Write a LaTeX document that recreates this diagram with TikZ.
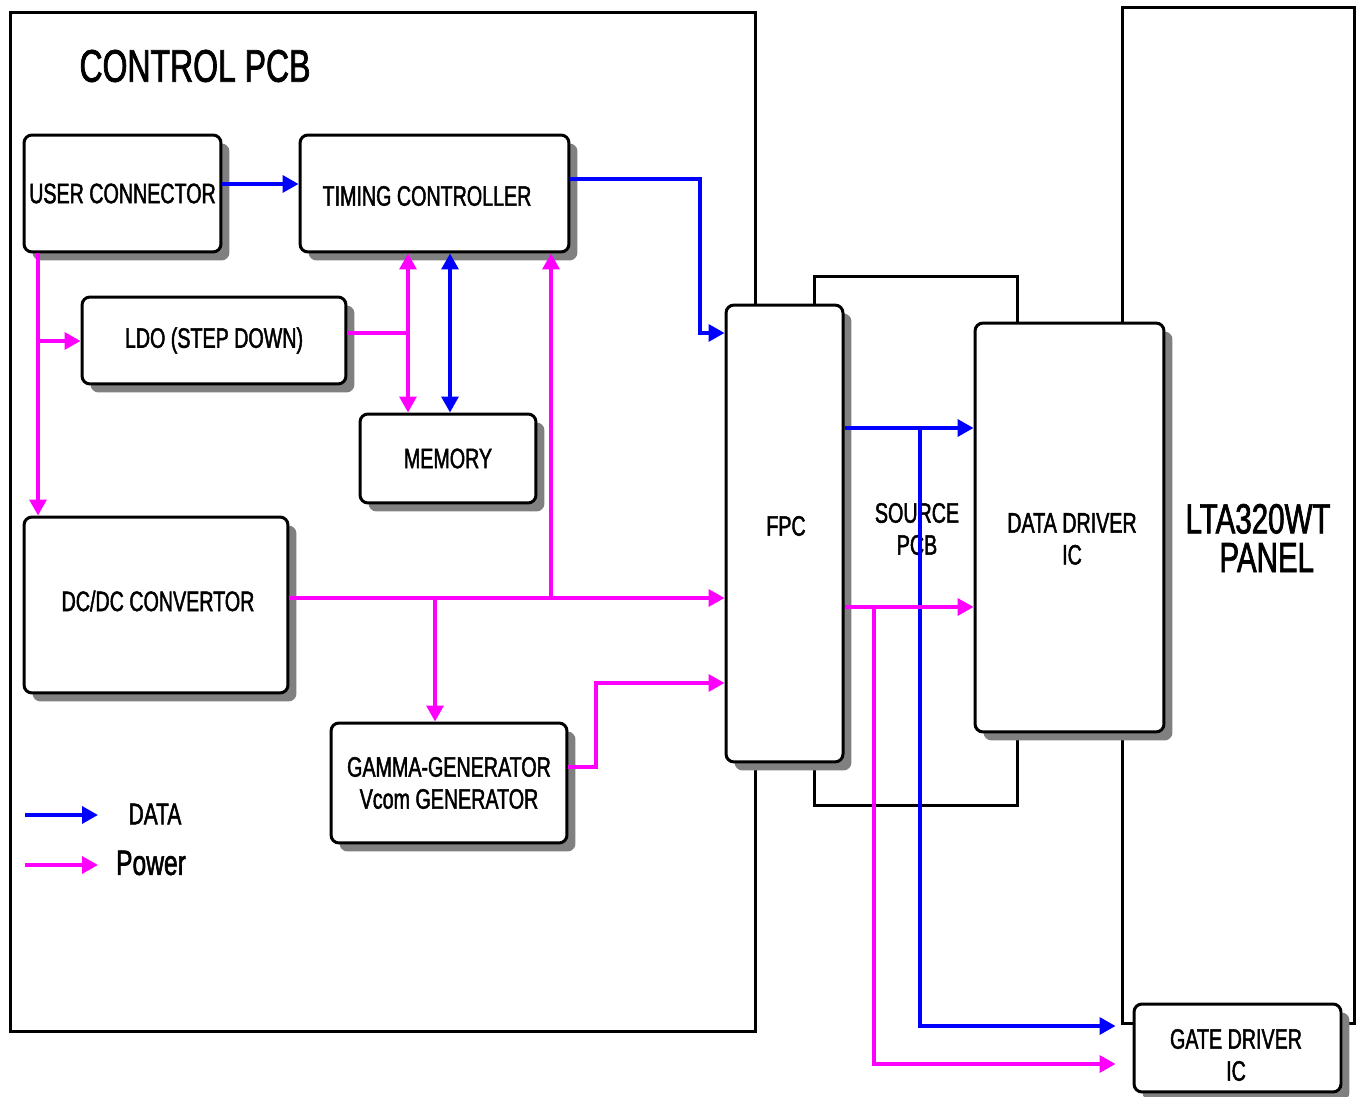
\documentclass[tikz,border=0pt]{standalone}
\usepackage{fontspec}
\setmainfont[FakeStretch=0.7, FakeBold=1.6]{Liberation Sans}
\usetikzlibrary{arrows.meta,shadows}
\definecolor{datablue}{RGB}{0,0,255}
\definecolor{powerpink}{RGB}{255,0,255}
\tikzset{
        % Board outlines
        board/.style={draw=black, line width=0.06cm, fill=white, inner sep=0pt},
        % Shadowed blocks
        block/.style={draw=black, line width=0.06cm, fill=white, rounded corners=0.16cm,
                align=center, inner sep=0pt, font=\fontsize{16}{18.2}\selectfont,
                drop shadow={shadow xshift=0.17cm, shadow yshift=-0.17cm, fill=gray, opacity=1}},
        % Free labels
        lbl/.style={align=center, inner sep=0pt, font=\fontsize{16}{18.2}\selectfont},
        % Data lines
        line_data/.style={->, draw=datablue, line width=0.07cm},
        % Power lines
        line_power/.style={->, draw=powerpink, line width=0.07cm}
}
\begin{document}
\begin{tikzpicture}[
            x=0.02cm, y=-0.02cm,
            >={Triangle[length=0.32cm,width=0.34cm]}
        ]
            \useasboundingbox (0,0) rectangle (1365,1097);
            % boards
            \node[board, minimum width=14.92cm, minimum height=20.4cm] (control) at (383,522) {};
            \node[board, minimum width=4.08cm, minimum height=10.6cm] (source) at (916,541) {};
            \node[board, minimum width=4.66cm, minimum height=20.34cm] (panel) at (1238.5,515.5) {};
            \node[lbl, font=\fontsize{26}{28}\selectfont] (control_txt) at (195,66) {CONTROL PCB};
            \node[lbl] (source_txt) at (917,529) {SOURCE\\PCB};
            \node[lbl, font=\fontsize{24}{22}\selectfont] (panel_txt) at (1258,538) {LTA320WT\\\hspace*{0.35cm}PANEL};
            % blocks
            \node[block, minimum width=3.94cm, minimum height=2.34cm] (user) at (122.5,193.5) {USER CONNECTOR};
            \node[block, minimum width=5.38cm, minimum height=2.34cm] (timing) at (434.5,193.5) {};
            \node[block, minimum width=5.28cm, minimum height=1.74cm] (ldo) at (214,340.5) {LDO (STEP DOWN)};
            \node[block, minimum width=3.52cm, minimum height=1.78cm] (memory) at (448,458.5) {MEMORY};
            \node[block, minimum width=5.28cm, minimum height=3.52cm] (dcdc) at (156,605) {};
            \node[block, minimum width=4.72cm, minimum height=2.4cm] (gamma) at (449,783) {GAMMA-GENERATOR\\Vcom GENERATOR};
            \node[block, minimum width=2.34cm, minimum height=9.14cm] (fpc) at (784.5,533.5) {};
            \node[block, minimum width=3.78cm, minimum height=8.18cm] (ddic) at (1069.5,527.5) {};
            \node[block, minimum width=4.14cm, minimum height=1.76cm] (gdic) at (1237.5,1048) {};
            \node[lbl] (timing_txt) at (427,196) {TIMING CONTROLLER};
            \node[lbl] (dcdc_txt) at (158,601) {DC/DC CONVERTOR};
            \node[lbl] (fpc_txt) at (786,526) {FPC};
            \node[lbl] (ddic_txt) at (1072,539) {DATA DRIVER\\IC};
            \node[lbl] (gdic_txt) at (1236,1055) {GATE DRIVER\\IC};
            % junctions
            \coordinate (j_ldo) at (38,341);
            \coordinate (j_mem) at (408,333);
            \coordinate (j_bus) at (288,598);
            \coordinate (j_tcon) at (551,598);
            \coordinate (j_gam) at (435,598);
            \coordinate (j_vcom) at (596,683);
            \coordinate (j_fpc) at (700,333);
            \coordinate (j_gp) at (874,607);
            \coordinate (j_gd) at (920,428);
            % data lines
            \draw[line_data] (user.east |- 0,184) -- (timing.west |- 0,184);
            \draw[line_data] (timing.east |- 0,179) -| (j_fpc) -- (fpc.west |- j_fpc);
            \draw[line_data, <->] (timing.south -| 450,0) -- (memory.north -| 450,0);
            \draw[line_data] (fpc.east |- j_gd) -- (ddic.west |- j_gd);
            \draw[line_data, shorten >=0.34cm] (j_gd) |- (gdic.west |- 0,1026);
            % power lines
            \draw[line_power] (user.south -| j_ldo) -- (dcdc.north -| j_ldo);
            \draw[line_power] (j_ldo) -- (ldo.west |- j_ldo);
            \draw[line_power, -] (ldo.east |- j_mem) -- (j_mem);
            \draw[line_power, <->] (timing.south -| j_mem) -- (memory.north -| j_mem);
            \draw[line_power] (dcdc.east |- j_bus) -- (fpc.west |- j_bus);
            \draw[line_power] (j_tcon) -- (timing.south -| j_tcon);
            \draw[line_power] (j_gam) -- (gamma.north -| j_gam);
            \draw[line_power] (gamma.east |- 0,767) -| (j_vcom) -- (fpc.west |- j_vcom);
            \draw[line_power] (fpc.east |- j_gp) -- (ddic.west |- j_gp);
            \draw[line_power, shorten >=0.34cm] (j_gp) |- (gdic.west |- 0,1064);
            % legend
            \coordinate (key_data_a) at (25,815);
            \coordinate (key_data_b) at (98,815);
            \coordinate (key_power_a) at (25,865);
            \coordinate (key_power_b) at (98,865);
            \draw[line_data] (key_data_a) -- (key_data_b);
            \draw[line_power] (key_power_a) -- (key_power_b);
            \node[lbl, font=\fontsize{17}{19}\selectfont] (key_data) at (155,814) {DATA};
            \node[lbl, font=\fontsize{20}{22}\selectfont] (key_power) at (151,863) {Power};
\end{tikzpicture}
\end{document}
